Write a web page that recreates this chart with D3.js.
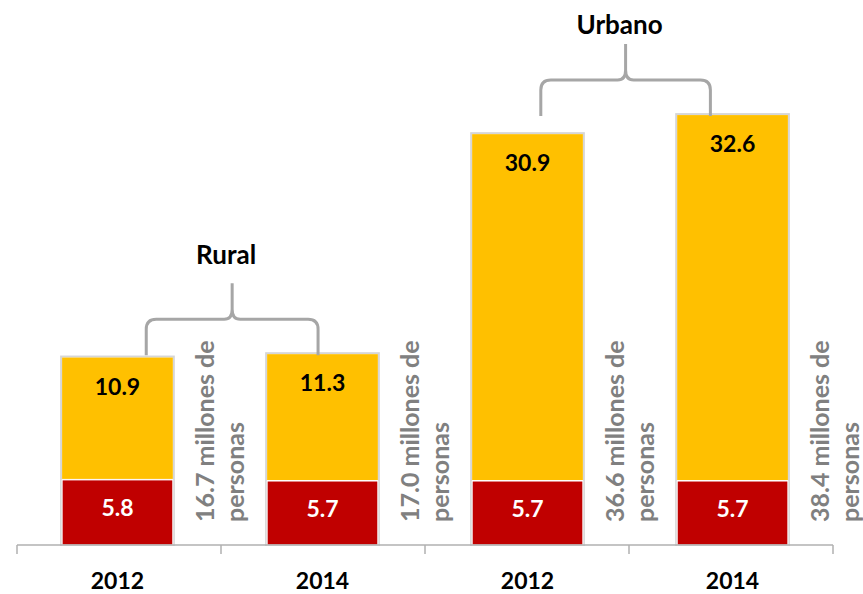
<!DOCTYPE html>
<html>
<head>
<meta charset="utf-8">
<style>
  body { margin: 0; background: #fff; }
  svg { display: block; font-family: Lato, "Open Sans", sans-serif; }
</style>
</head>
<body>
<svg width="863" height="594"></svg>
<script src="https://cdn.jsdelivr.net/npm/d3@7"></script>
<script>
// datos por barra
var ids = ["r2012", "r2014", "u2012", "u2014"];
var years = ["2012", "2014", "2012", "2014"];
var bottomValues = [5.8, 5.7, 5.7, 5.7];   // rojo
var topValues = [10.9, 11.3, 30.9, 32.6];    // amarillo
var totalLabels = ["16.7", "17.0", "36.6", "38.4"];

// llaves de grupo
var groupNames = ["Rural", "Urbano"];
var groupBars = [[0, 1], [2, 3]];

var svg = d3.select("svg");

var x = d3.scaleBand().domain(ids).range([17, 833]).paddingInner(0.46).paddingOuter(0.22);
var xCell = d3.scaleBand().domain(ids).range([17, 833]);
var y = d3.scaleLinear().domain([0, 40]).range([545, 96]);

var bars = ids.map(function(id, i) {
  return {id: id, year: years[i], low: bottomValues[i], high: topValues[i], total: totalLabels[i]};
});

// sombra / borde gris de las barras
svg.selectAll(".shadow").data(bars).enter().append("rect")
    .attr("x", function(d) { return x(d.id) - 1; })
    .attr("y", function(d) { return y(d.low + d.high) - 1; })
    .attr("width", x.bandwidth() + 2)
    .attr("height", function(d) { return y(0) - y(d.low + d.high) + 1; })
    .attr("fill", "none")
    .attr("stroke", "#d6d6d6")
    .attr("stroke-width", 2);

// segmento rojo
svg.selectAll(".low").data(bars).enter().append("rect")
    .attr("x", function(d) { return x(d.id); })
    .attr("y", function(d) { return y(d.low); })
    .attr("width", x.bandwidth())
    .attr("height", function(d) { return y(0) - y(d.low); })
    .attr("fill", "#C00000")
    .attr("stroke", "#fff")
    .attr("stroke-width", 1);

// segmento amarillo
svg.selectAll(".high").data(bars).enter().append("rect")
    .attr("x", function(d) { return x(d.id); })
    .attr("y", function(d) { return y(d.low + d.high); })
    .attr("width", x.bandwidth())
    .attr("height", function(d) { return y(d.low) - y(d.low + d.high) - 1; })
    .attr("fill", "#FFC000");

// eje
var axis = svg.append("g");
axis.append("line")
    .attr("x1", xCell.range()[0]).attr("x2", xCell.range()[1])
    .attr("y1", y(0)).attr("y2", y(0))
    .attr("stroke", "#b0b0b0").attr("stroke-width", 1.5);
var tickPos = ids.map(function(id) { return xCell(id); }).concat([xCell.range()[1]]);
axis.selectAll(".tick").data(tickPos).enter().append("line")
    .attr("x1", function(d) { return d; }).attr("x2", function(d) { return d; })
    .attr("y1", y(0)).attr("y2", y(0) + 9)
    .attr("stroke", "#b0b0b0").attr("stroke-width", 1.5);

svg.selectAll(".year").data(bars).enter().append("text")
    .attr("x", function(d) { return x(d.id) + x.bandwidth() / 2; })
    .attr("y", y(0) + 44)
    .attr("text-anchor", "middle")
    .attr("font-size", 23).attr("font-weight", "bold").attr("fill", "#000")
    .text(function(d) { return d.year; });

// etiquetas de valores
svg.selectAll(".lowLab").data(bars).enter().append("text")
    .attr("x", function(d) { return x(d.id) + x.bandwidth() / 2; })
    .attr("y", function(d) { return (y(0) + y(d.low)) / 2 + 4; })
    .attr("text-anchor", "middle")
    .attr("font-size", 23).attr("font-weight", "bold").attr("fill", "#fff")
    .text(function(d) { return d3.format(".1f")(d.low); });

svg.selectAll(".highLab").data(bars).enter().append("text")
    .attr("x", function(d) { return x(d.id) + x.bandwidth() / 2; })
    .attr("y", function(d) { return y(d.low + d.high) + 37; })
    .attr("text-anchor", "middle")
    .attr("font-size", 23).attr("font-weight", "bold").attr("fill", "#000")
    .text(function(d) { return d3.format(".1f")(d.high); });

// texto vertical con el total
var tot = svg.selectAll(".tot").data(bars).enter().append("text")
    .attr("transform", function(d) {
      return "translate(" + (x(d.id) + x.bandwidth() + 41) + "," + (y(0) - 23) + ") rotate(-90)";
    })
    .attr("font-size", 25).attr("font-weight", "bold").attr("fill", "#808080");
tot.append("tspan").attr("x", 0).attr("y", 0)
    .text(function(d) { return d.total + " millones de"; });
tot.append("tspan").attr("x", 0).attr("y", 30)
    .text("personas");

// llaves
var labelGap = [19, 10];
groupNames.forEach(function(name, g) {
  var a = groupBars[g][0], b = groupBars[g][1];
  var left = x(ids[a]) + x.bandwidth() * (g === 0 ? 0.76 : 0.62);
  var right = x(ids[b]) + x.bandwidth() * (g === 0 ? 0.46 : 0.30);
  var bottom = y(d3.max([a, b], function(i) { return bottomValues[i] + topValues[i]; })) + 1;
  var mid = bottom - 36, peak = bottom - 72, cx = (left + right) / 2, r = 10;
  var p = d3.path();
  p.moveTo(left, bottom);
  p.lineTo(left, mid + r);
  p.quadraticCurveTo(left, mid, left + r, mid);
  p.lineTo(cx - 8, mid);
  p.quadraticCurveTo(cx, mid, cx, mid - 10);
  p.lineTo(cx, peak);
  p.moveTo(cx, mid - 10);
  p.quadraticCurveTo(cx, mid, cx + 8, mid);
  p.lineTo(right - r, mid);
  p.quadraticCurveTo(right, mid, right, mid + r);
  p.lineTo(right, bottom);
  svg.append("path").attr("d", p.toString())
      .attr("fill", "none").attr("stroke", "#a6a6a6").attr("stroke-width", 3);
  svg.append("text")
      .attr("x", cx - 6).attr("y", peak - labelGap[g])
      .attr("text-anchor", "middle")
      .attr("font-size", 26).attr("font-weight", "bold").attr("fill", "#000")
      .text(name);
});
</script>
</body>
</html>
